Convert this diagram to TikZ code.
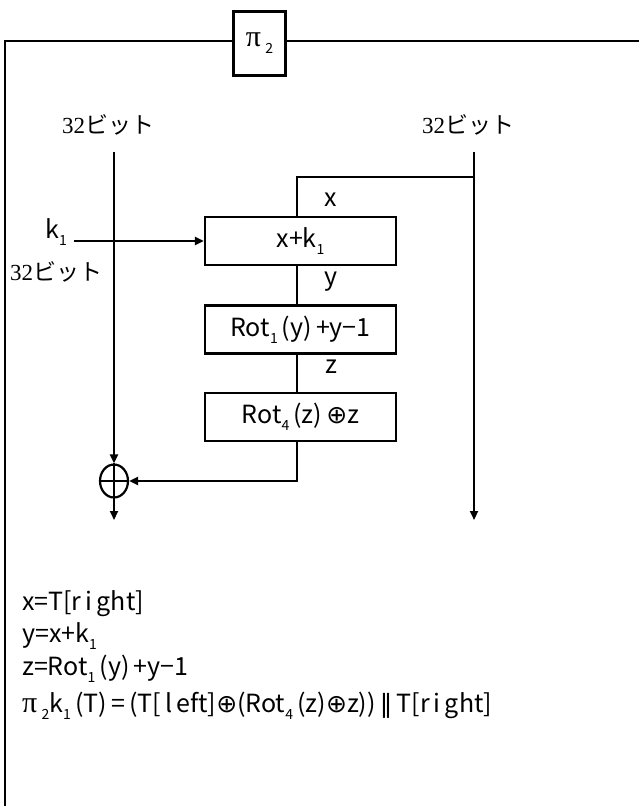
\documentclass[tikz,border=0pt]{standalone}
\usepackage{fontspec}
\setmainfont{Noto Sans CJK JP}
\newfontfamily\serifd{Liberation Serif}
\newfontfamily\symf{DejaVu Sans}
\usetikzlibrary{arrows.meta,shapes.geometric}
\newcommand\lsub[1]{\raisebox{-0.28em}{\fontsize{14}{14}\selectfont #1}}
\newcommand\xo{{\symf ⊕}}
\newcommand\pig{{\fontsize{30}{30}\selectfont\serifd π}}
\newcommand\jp[1]{{\fontsize{23}{26}\selectfont{\serifd 32}#1}}
\tikzset{
  every node/.style={font=\fontsize{25}{30}\selectfont, inner sep=0pt},
  opbox/.style={draw, line width=2.2pt, minimum width=191pt, minimum height=48pt},
  ln/.style={line width=2.2pt},
  arr/.style={line width=2.2pt, -{Triangle[length=9pt,width=8pt]}},
  eq/.style={anchor=base west}
}
\begin{document}
\begin{tikzpicture}[x=1pt,y=-1pt]
\path[use as bounding box, fill=white] (0,0) rectangle (639,806);
% frame and title
\node[draw, line width=2.2pt, minimum width=52pt, minimum height=64pt] (pi) at (259.5,43.5) {\pig\,\lsub{2}};
\coordinate (fbl) at (5,806);
\coordinate (ftr) at (639,41);
\draw[ln] (fbl) -- (5,41) -- (pi.west |- 0,41);
\draw[ln] (pi.east |- 0,41) -- (ftr);
% top labels
\node (bl) at (108,125) {\jp{ビット}};
\node (br) at (468,125) {\jp{ビット}};
% boxes
\node[opbox] (b1) at (300.5,241) {x+k\lsub{1}};
\node[opbox] (b2) at (300.5,329.5) {Rot\lsub{1}\,(y)\,+y−1};
\node[opbox] (b3) at (300.5,417) {Rot\lsub{4}\,(z)\,\xo z};
% labels
\node (lx) at (331,200) {x};
\node (ly) at (331,282) {y};
\node (lz) at (331,367) {z};
\node (lk) at (56,232) {k\lsub{1}};
\node (lb) at (56,272) {\jp{ビット}};
% xor
\node[draw, ellipse, line width=2.2pt, minimum width=28pt, minimum height=33pt] (xr) at (114,481) {};
\draw[ln] (xr.north) -- (xr.south) (xr.west) -- (xr.east);
% coordinates
\coordinate (ltop) at (114,152);
\coordinate (rtop) at (474,152);
\coordinate (rend) at (474,520);
\coordinate (lend) at (114,520);
\coordinate (br1) at (474,177);
\coordinate (br2) at (297,177);
\coordinate (kst) at (74,241);
% connectors
\draw[arr] (ltop) -- (xr.north);
\draw[arr] (rtop) -- (rend);
\draw[ln] (br1) -- (br2) -- (br2 |- b1.north);
\draw[arr] (kst) -- (b1.west);
\draw[ln] (br2 |- b1.south) -- (br2 |- b2.north);
\draw[ln] (br2 |- b2.south) -- (br2 |- b3.north);
\draw[arr] (br2 |- b3.south) -- (br2 |- xr.east) -- (xr.east);
\draw[arr] (xr.south) -- (lend);
% equations
\node[eq] (e1) at (22,610) {x=T[r\,i\,ght]};
\node[eq] (e2) at (22,642) {y=x+k\lsub{1}};
\node[eq] (e3) at (22,675) {z=Rot\lsub{1}\,(y)\,+y−1};
\node[eq] (e4) at (22,712) {\pig\,\lsub{2}k\lsub{1}\,(T)\,=\,(T[\,l\,eft]\xo(Rot\lsub{4}\,(z)\xo z))\,{\symf ‖}\,T[r\,i\,ght]};
\end{tikzpicture}
\end{document}
